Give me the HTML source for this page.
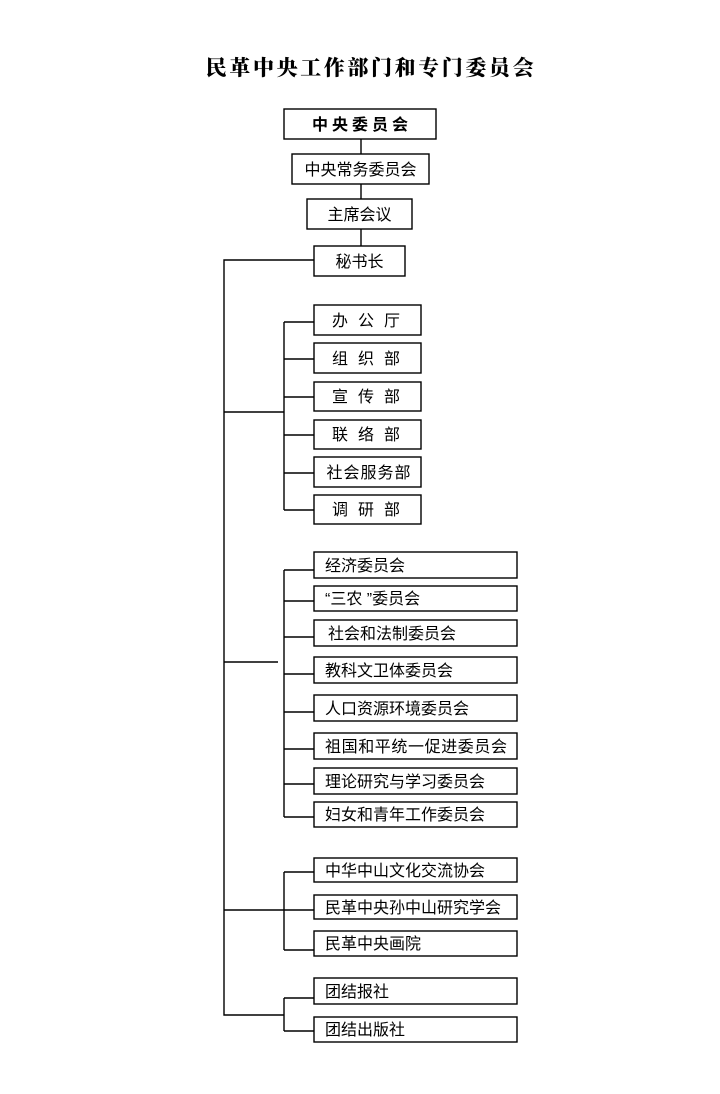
<!DOCTYPE html>
<html>
<head>
<meta charset="utf-8">
<style>
html,body{margin:0;padding:0;background:#fff;}
body{width:720px;height:1094px;overflow:hidden;}
svg{display:block;}
.t{font-family:"Liberation Sans","Noto Sans CJK SC",sans-serif;font-size:16px;fill:#000;}
.c{text-anchor:middle;}
</style>
</head>
<body>
<svg width="720" height="1094" viewBox="0 0 720 1094" xmlns="http://www.w3.org/2000/svg">
<rect x="0" y="0" width="720" height="1094" fill="#fff"/>
<text x="371" y="75" text-anchor="middle" style="font-family:'Liberation Serif','Noto Serif CJK SC',serif;font-size:21px;font-weight:900;letter-spacing:2.6px;" fill="#000">民革中央工作部门和专门委员会</text>

<g fill="none" stroke="#000" stroke-width="1.4">
<!-- top chain -->
<rect x="284" y="109" width="152" height="30"/>
<rect x="292" y="154" width="137" height="30"/>
<rect x="307" y="199" width="105" height="30"/>
<rect x="314" y="246" width="91" height="30"/>
<line x1="361" y1="139" x2="361" y2="154"/>
<line x1="361" y1="184" x2="361" y2="199"/>
<line x1="361" y1="229" x2="361" y2="246"/>
<polyline points="314,260 224,260 224,1015 284,1015"/>

<!-- departments -->
<rect x="314" y="305" width="107" height="30"/>
<rect x="314" y="343" width="107" height="30"/>
<rect x="314" y="382" width="107" height="29"/>
<rect x="314" y="420" width="107" height="29"/>
<rect x="314" y="457" width="107" height="30"/>
<rect x="314" y="495" width="107" height="29"/>
<line x1="284" y1="322" x2="284" y2="510"/>
<line x1="284" y1="322" x2="314" y2="322"/>
<line x1="284" y1="359" x2="314" y2="359"/>
<line x1="284" y1="397" x2="314" y2="397"/>
<line x1="284" y1="435" x2="314" y2="435"/>
<line x1="284" y1="473" x2="314" y2="473"/>
<line x1="284" y1="510" x2="314" y2="510"/>
<line x1="224" y1="412" x2="284" y2="412"/>

<!-- committees -->
<rect x="314" y="552" width="203" height="26"/>
<rect x="314" y="586" width="203" height="25"/>
<rect x="314" y="620" width="203" height="26"/>
<rect x="314" y="657" width="203" height="26"/>
<rect x="314" y="695" width="203" height="26"/>
<rect x="314" y="733" width="203" height="26"/>
<rect x="314" y="768" width="203" height="26"/>
<rect x="314" y="802" width="203" height="25"/>
<line x1="284" y1="570" x2="284" y2="817"/>
<line x1="284" y1="570" x2="314" y2="570"/>
<line x1="284" y1="601" x2="314" y2="601"/>
<line x1="284" y1="637" x2="314" y2="637"/>
<line x1="284" y1="674" x2="314" y2="674"/>
<line x1="284" y1="712" x2="314" y2="712"/>
<line x1="284" y1="749" x2="314" y2="749"/>
<line x1="284" y1="784" x2="314" y2="784"/>
<line x1="284" y1="817" x2="314" y2="817"/>
<line x1="224" y1="662" x2="278" y2="662"/>

<!-- associations -->
<rect x="314" y="858" width="203" height="24"/>
<rect x="314" y="895" width="203" height="24"/>
<rect x="314" y="931" width="203" height="25"/>
<line x1="284" y1="872" x2="284" y2="950"/>
<line x1="284" y1="872" x2="314" y2="872"/>
<line x1="284" y1="910" x2="314" y2="910"/>
<line x1="284" y1="950" x2="314" y2="950"/>
<line x1="224" y1="910" x2="284" y2="910"/>

<!-- press -->
<rect x="314" y="978" width="203" height="26"/>
<rect x="314" y="1017" width="203" height="25"/>
<line x1="284" y1="998" x2="284" y2="1031"/>
<line x1="284" y1="998" x2="314" y2="998"/>
<line x1="284" y1="1031" x2="314" y2="1031"/>
</g>

<!-- top chain text -->
<text class="t c" x="362" y="130" style="font-weight:bold;letter-spacing:4px;">中央委员会</text>
<text class="t c" x="360.5" y="175">中央常务委员会</text>
<text class="t c" x="359.5" y="220">主席会议</text>
<text class="t c" x="359.5" y="267">秘书长</text>

<!-- departments text -->
<text class="t c" x="371" y="326" style="letter-spacing:10px;">办公厅</text>
<text class="t c" x="371" y="364" style="letter-spacing:10px;">组织部</text>
<text class="t c" x="371" y="402" style="letter-spacing:10px;">宣传部</text>
<text class="t c" x="371" y="440" style="letter-spacing:10px;">联络部</text>
<text class="t c" x="369" y="478" style="letter-spacing:1px;">社会服务部</text>
<text class="t c" x="371" y="515" style="letter-spacing:10px;">调研部</text>

<!-- committees text -->
<text class="t" x="325" y="571">经济委员会</text>
<text class="t" x="325" y="604">“三农 ”委员会</text>
<text class="t" x="328" y="639">社会和法制委员会</text>
<text class="t" x="325" y="676">教科文卫体委员会</text>
<text class="t" x="325" y="714">人口资源环境委员会</text>
<text class="t" x="325" y="752" style="letter-spacing:0.6px;">祖国和平统一促进委员会</text>
<text class="t" x="325" y="787">理论研究与学习委员会</text>
<text class="t" x="325" y="820">妇女和青年工作委员会</text>

<!-- associations text -->
<text class="t" x="325" y="876">中华中山文化交流协会</text>
<text class="t" x="325" y="913">民革中央孙中山研究学会</text>
<text class="t" x="325" y="949">民革中央画院</text>

<text class="t" x="325" y="997">团结报社</text>
<text class="t" x="325" y="1035">团结出版社</text>
</svg>
</body>
</html>
